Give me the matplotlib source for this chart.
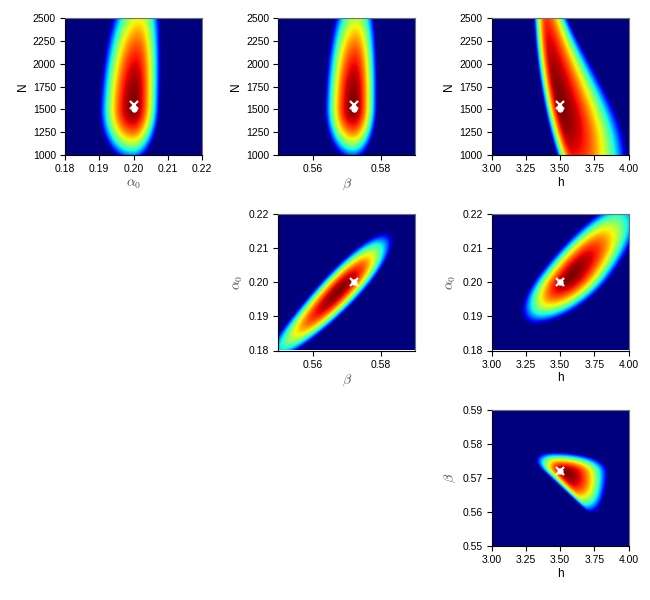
import numpy as np
import matplotlib
matplotlib.use("Agg")
import matplotlib.pyplot as plt

plt.rcParams['font.family'] = ['Liberation Sans', 'DejaVu Sans']
plt.rcParams['mathtext.fontset'] = 'cm'

# true / estimated parameter values
alpha0_true = 0.20
beta_true = 0.572
h_true = 3.5
N_true = 1550
N_est = 1500

# axis ranges
alpha0_lim = [0.18, 0.22]
beta_lim = [0.55, 0.59]
h_lim = [3.0, 4.0]
N_lim = [1000, 2500]

alpha0_ticks = [0.18, 0.19, 0.20, 0.21, 0.22]
beta_ticks_x = [0.56, 0.58]
beta_ticks_y = [0.55, 0.56, 0.57, 0.58, 0.59]
h_ticks = [3.00, 3.25, 3.50, 3.75, 4.00]
N_ticks = [1000, 1250, 1500, 1750, 2000, 2250, 2500]

# likelihood surface shapes
# [x_peak, y_peak, ridge slope, ridge curve, width left, width right,
#  left growth, right growth, right growth^2, y span low, y span high]
shape_alpha0_N = [0.200, 1530, 1.1e-6, 6e-10, 0.0101, 0.0078, 0, 0, 0, 616, 1580]
shape_beta_N = [0.572, 1530, 5e-7, 4e-10, 0.0085, 0.0071, 0, 0, 0, 596, 1470]
shape_h_N = [3.50, 1530, -1.5e-4, 4.5e-8, 0.12, 0.39, -1.5e-4, -4e-4, -4.5e-7, 1600, 2500]
shape_beta_alpha0 = [0.5679, 0.1975, 0.87, -4.0, 0.0077, 0.0077, 0, 0, 0, 0.0217, 0.017]
shape_h_alpha0 = [3.575, 0.2015, 18.5, 0.0, 0.25, 0.30, 0, 0, 0, 0.0141, 0.023]
shape_h_beta = [3.54, 0.5715, -15.0, 0.0, 0.16, 0.31, 80, 50, 0, 0.012, 0.006]


def surface(xlim, ylim, p, n=300):
    xc, yc, b1, b2, wl0, wr0, kl, kr, kr2, syl, syh = p
    x = np.linspace(xlim[0], xlim[1], n)
    y = np.linspace(ylim[0], ylim[1], n)
    X, Y = np.meshgrid(x, y)
    dy = Y - yc
    ridge = xc + b1 * dy + b2 * dy**2
    dx = X - ridge
    wl = wl0 * np.exp(kl * dy)
    wr = wr0 * np.exp(kr * dy + kr2 * dy**2)
    s = np.where(dx < 0, dx / wl, dx / wr)
    t = np.where(dy < 0, dy / syl, dy / syh)
    return np.clip(1 - s**2 - t**2, 0, 1)


def label_style(text):
    # the greek (mathtext) labels render smaller and lighter
    if text.startswith('$'):
        return dict(fontsize=10, color='0.3')
    return dict(fontsize=8.5, color='black')


def panel(ax, xlim, ylim, p, xt, yt, xfmt, yfmt, xlabel, ylabel, xm, ym, xd, yd):
    z = surface(xlim, ylim, p)
    ax.imshow(z, cmap='jet', origin='lower', aspect='auto', vmin=0, vmax=1,
              extent=[xlim[0], xlim[1], ylim[0], ylim[1]], interpolation='bilinear')
    ax.plot(xd, yd, 'o', color='white', ms=3.5, mec='white')
    ax.plot(xm, ym, 'x', color='white', ms=5.5, mew=1.6)
    ax.set_xlim(xlim)
    ax.set_ylim(ylim)
    ax.set_xticks(xt)
    ax.set_yticks(yt)
    ax.set_xticklabels([xfmt.format(v) for v in xt])
    ax.set_yticklabels([yfmt.format(v) for v in yt])
    ax.tick_params(labelsize=7.5, length=3.5, width=0.8, direction='out', pad=3)
    ax.set_xlabel(xlabel, labelpad=2, **label_style(xlabel))
    ax.set_ylabel(ylabel, labelpad=3, **label_style(ylabel))
    for side in ['top', 'right']:
        ax.spines[side].set_color('0.45')


fig = plt.figure(figsize=(6.5, 6.0), dpi=100)
W, H = 650.0, 600.0
col_left = [65, 278.3, 491.7]
row_top = [18.3, 214, 409.5]
aw, ah = 137, 136.5


def make_ax(r, c):
    return fig.add_axes([col_left[c] / W, 1 - (row_top[r] + ah) / H, aw / W, ah / H])


alpha_lab = r'$\alpha_0$'
beta_lab = r'$\beta$'

ax = make_ax(0, 0)
panel(ax, alpha0_lim, N_lim, shape_alpha0_N, alpha0_ticks, N_ticks, '{:.2f}', '{:d}',
      alpha_lab, 'N', alpha0_true, N_true, alpha0_true, N_est)

ax = make_ax(0, 1)
panel(ax, beta_lim, N_lim, shape_beta_N, beta_ticks_x, N_ticks, '{:.2f}', '{:d}',
      beta_lab, 'N', beta_true, N_true, beta_true, N_est)

ax = make_ax(0, 2)
panel(ax, h_lim, N_lim, shape_h_N, h_ticks, N_ticks, '{:.2f}', '{:d}',
      'h', 'N', h_true, N_true, h_true, N_est)

ax = make_ax(1, 1)
panel(ax, beta_lim, alpha0_lim, shape_beta_alpha0, beta_ticks_x, alpha0_ticks, '{:.2f}', '{:.2f}',
      beta_lab, alpha_lab, beta_true, alpha0_true, beta_true, alpha0_true)

ax = make_ax(1, 2)
panel(ax, h_lim, alpha0_lim, shape_h_alpha0, h_ticks, alpha0_ticks, '{:.2f}', '{:.2f}',
      'h', alpha_lab, h_true, alpha0_true, h_true, alpha0_true)

ax = make_ax(2, 2)
panel(ax, h_lim, beta_lim, shape_h_beta, h_ticks, beta_ticks_y, '{:.2f}', '{:.2f}',
      'h', beta_lab, h_true, beta_true, h_true, beta_true)

fig.savefig('out.png', dpi=100)
